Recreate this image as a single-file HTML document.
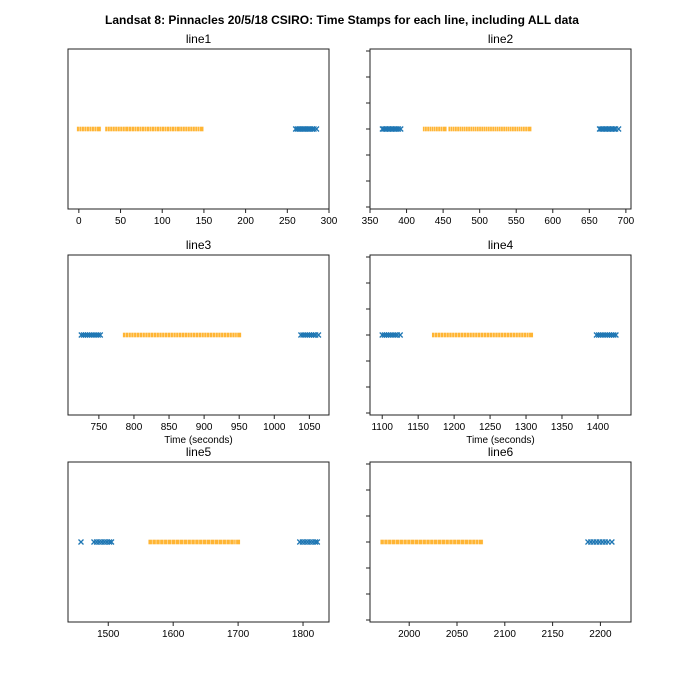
<!DOCTYPE html>
<html><head><meta charset="utf-8"><style>
html,body{margin:0;padding:0;background:#fff}
svg{display:block;font-family:"Liberation Sans","DejaVu Sans",sans-serif}
</style></head><body>
<svg id="fig" width="684" height="684" viewBox="0 0 684 684" xmlns="http://www.w3.org/2000/svg">
<rect width="684" height="684" fill="#fff"/>
<text x="342" y="24" text-anchor="middle" font-size="12" font-weight="bold">Landsat 8: Pinnacles 20/5/18 CSIRO: Time Stamps for each line, including ALL data</text>
</svg>
<script>
const panelTitles=["line1","line2","line3","line4","line5","line6"];
const l1Orange=[0,3,6,9,12,15,18,21,24,34,37,40,43,46,49,52,55,58,62,66,69,72,75,78,81,84,87,90,93,96,99,102,105,108,111,114,117,120,124,127,130,133,136,139,142,145,147];
const l1Blue=[260,262,264,266,268,270,272,274,276,278,280,282,285];
const l2Orange=[425,428,431,434,437,440,443,446,449,452,460,463,466,469,472,475,478,481,484,487,490,493,496,499,502,505,508,511,514,517,520,523,526,529,532,535,538,541,544,547,550,553,556,559,562,565,568];
const l2Blue=[367,369,371,373,375,377,379,381,383,385,387,389,392,664,666,668,670,672,674,676,678,680,682,684,686,690];
const l3Orange=[787,791,795,799,803,807,811,815,819,823,827,831,835,839,843,847,851,855,859,863,867,871,875,879,883,887,891,895,899,903,907,911,915,919,923,927,931,935,939,943,947,950];
const l3Blue=[725,728,731,734,737,740,743,746,749,752,1038,1041,1044,1047,1050,1053,1056,1059,1063];
const l4Orange=[1172,1176,1180,1184,1188,1192,1196,1200,1204,1208,1212,1216,1220,1224,1228,1232,1236,1240,1244,1248,1252,1256,1260,1264,1268,1272,1276,1280,1284,1288,1292,1296,1300,1304,1307];
const l4Blue=[1100,1103,1106,1109,1112,1115,1118,1121,1125,1398,1401,1404,1407,1410,1413,1416,1419,1422,1425];
const l5Orange=[1565,1571,1577,1583,1589,1595,1601,1607,1613,1619,1625,1631,1637,1643,1649,1655,1661,1667,1673,1679,1685,1691,1697,1700];
const l5Blue=[1458,1478,1482,1486,1490,1494,1498,1502,1505,1795,1799,1803,1807,1811,1815,1819,1822];
const l6Orange=[1972,1976,1980,1984,1988,1992,1996,2000,2004,2008,2012,2016,2020,2024,2028,2032,2036,2040,2044,2048,2052,2056,2060,2064,2068,2072,2075];
const l6Blue=[2187,2190,2193,2196,2199,2202,2205,2208,2212];
const xTicks1=[0,50,100,150,200,250,300];
const xTicks2=[350,400,450,500,550,600,650,700];
const xTicks3=[750,800,850,900,950,1000,1050];
const xTicks4=[1100,1150,1200,1250,1300,1350,1400];
const xTicks5=[1500,1600,1700,1800];
const xTicks6=[2000,2050,2100,2150,2200];
const xDomains=[[-13,300],[350,707],[706,1078],[1083,1446],[1438,1840],[1959,2232]];

const orangeSets=[l1Orange,l2Orange,l3Orange,l4Orange,l5Orange,l6Orange];
const blueSets=[l1Blue,l2Blue,l3Blue,l4Blue,l5Blue,l6Blue];
const tickSets=[xTicks1,xTicks2,xTicks3,xTicks4,xTicks5,xTicks6];
const svg=document.getElementById('fig');
const NS='http://www.w3.org/2000/svg';
function mk(tag,attrs,parent){const e=document.createElementNS(NS,tag);for(const k in attrs)e.setAttribute(k,attrs[k]);(parent||svg).appendChild(e);return e;}
const lefts=[68,370],tops=[49,255,462],W=261,H=160;
for(let i=0;i<6;i++){
  const L=lefts[i%2],T=tops[Math.floor(i/2)];
  const g=mk('g',{});
  
  
  const d=xDomains[i];
  const x=v=>L+(v-d[0])/(d[1]-d[0])*W;
  const yc=T+H/2;
  const t=mk('text',{x:L+W/2,y:T-6,'text-anchor':'middle','font-size':12},g);
  t.textContent=panelTitles[i];
  
  
  orangeSets[i].forEach(v=>{
    const r=mk('rect',{x:x(v)-2.2,y:yc-2.5,width:4.4,height:5,fill:'#ffb534',stroke:'#fff','stroke-width':0.4},g);
    
    
  });
  blueSets[i].forEach(v=>{
    const cx=x(v);
    const p=mk('path',{d:`M${cx-2.5},${yc-2.5}L${cx+2.5},${yc+2.5}M${cx-2.5},${yc+2.5}L${cx+2.5},${yc-2.5}`,stroke:'#1f77b4','stroke-width':1.3,fill:'none'},g);
    
    
  });
  const fr=mk('rect',{x:L,y:T,width:W,height:H,fill:'none',stroke:'#222','stroke-width':1},g);
  
  
  tickSets[i].forEach(v=>{
    const tx=x(v);
    mk('line',{x1:tx,y1:T+H,x2:tx,y2:T+H+4,stroke:'#222'},g);
    const lb=mk('text',{x:tx,y:T+H+15,'text-anchor':'middle','font-size':10},g);
    lb.textContent=v;
    
    
  });
  if(i%2===1){for(let k=-3;k<=3;k++){mk('line',{x1:L-4,y1:yc+k*26,x2:L,y2:yc+k*26,stroke:'#222'},g);}}
  if(i===2||i===3){
    const xl=mk('text',{x:L+W/2,y:T+H+28,'text-anchor':'middle','font-size':10},g);
    xl.textContent='Time (seconds)';
    
    
  }
}
</script>
</body></html>
